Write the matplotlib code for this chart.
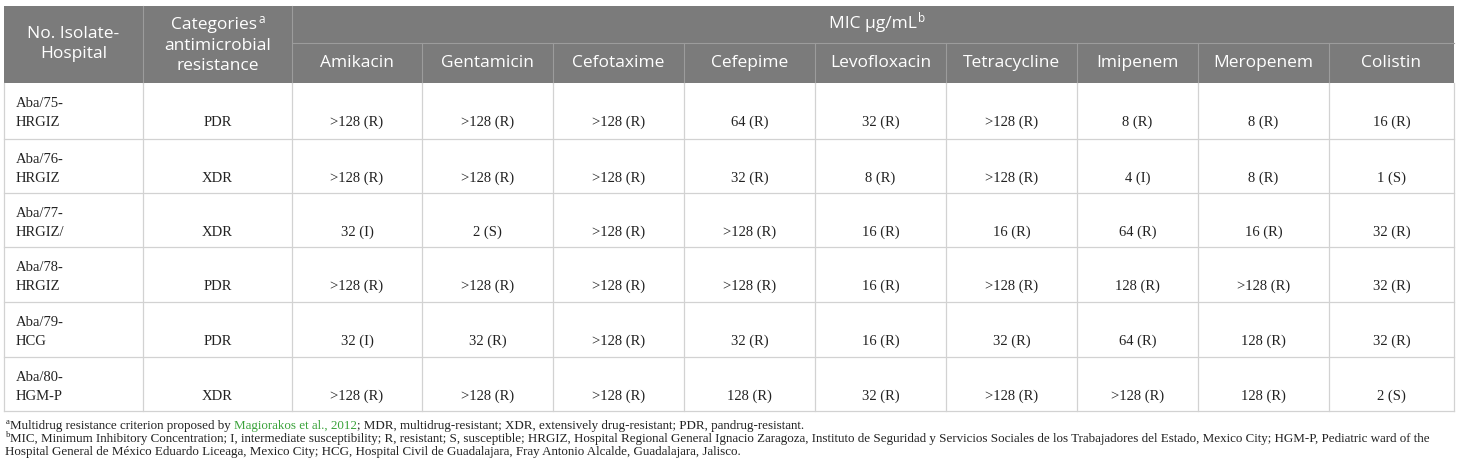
import matplotlib
matplotlib.use('Agg')
import matplotlib.pyplot as plt

# Dades de la taula
isolate_ids = ['Aba/75-', 'Aba/76-', 'Aba/77-', 'Aba/78-', 'Aba/79-', 'Aba/80-']
hospitals = ['HRGIZ', 'HRGIZ', 'HRGIZ/', 'HRGIZ', 'HCG', 'HGM-P']
categories = ['PDR', 'XDR', 'XDR', 'PDR', 'PDR', 'XDR']
drugs = ['Amikacin', 'Gentamicin', 'Cefotaxime', 'Cefepime', 'Levofloxacin',
         'Tetracycline', 'Imipenem', 'Meropenem', 'Colistin']
amikacin = ['>128 (R)', '>128 (R)', '32 (I)', '>128 (R)', '32 (I)', '>128 (R)']
gentamicin = ['>128 (R)', '>128 (R)', '2 (S)', '>128 (R)', '32 (R)', '>128 (R)']
cefotaxime = ['>128 (R)', '>128 (R)', '>128 (R)', '>128 (R)', '>128 (R)', '>128 (R)']
cefepime = ['64 (R)', '32 (R)', '>128 (R)', '>128 (R)', '32 (R)', '128 (R)']
levofloxacin = ['32 (R)', '8 (R)', '16 (R)', '16 (R)', '16 (R)', '32 (R)']
tetracycline = ['>128 (R)', '>128 (R)', '16 (R)', '>128 (R)', '32 (R)', '>128 (R)']
imipenem = ['8 (R)', '4 (I)', '64 (R)', '128 (R)', '64 (R)', '>128 (R)']
meropenem = ['8 (R)', '8 (R)', '16 (R)', '>128 (R)', '128 (R)', '128 (R)']
colistin = ['16 (R)', '1 (S)', '32 (R)', '32 (R)', '32 (R)', '2 (S)']
mic_columns = [amikacin, gentamicin, cefotaxime, cefepime, levofloxacin,
               tetracycline, imipenem, meropenem, colistin]

note_a = ['Multidrug resistance criterion proposed by ', 'Magiorakos et al., 2012',
          '; MDR, multidrug-resistant; XDR, extensively drug-resistant; PDR, pandrug-resistant.']
note_b1 = ('MIC, Minimum Inhibitory Concentration; I, intermediate susceptibility; R, resistant; '
           'S, susceptible; HRGIZ, Hospital Regional General Ignacio Zaragoza, Instituto de Seguridad '
           'y Servicios Sociales de los Trabajadores del Estado, Mexico City; HGM-P, Pediatric ward of the')
note_b2 = ('Hospital General de México Eduardo Liceaga, Mexico City; HCG, Hospital Civil de '
           'Guadalajara, Fray Antonio Alcalde, Guadalajara, Jalisco.')

# Geometria (en píxels)
W, H = 1460, 473
col_x = [4, 143, 292, 422, 553, 684, 815, 946, 1077, 1198, 1329, 1454]
row_y = [83, 139, 193, 247, 302, 357, 411]
head_top, head_mid = 6, 43

head_bg = '#7b7b7b'
head_line = '#9c9c9c'
grid = '#d2d2d2'
txt = '#222222'
sans = 'Open Sans'
serif = 'Liberation Serif'

fig = plt.figure(figsize=(W / 100, H / 100), dpi=100)
ax = fig.add_axes([0, 0, 1, 1])
ax.set_xlim(0, W)
ax.set_ylim(H, 0)
ax.axis('off')

# Capçalera
ax.add_patch(plt.Rectangle((col_x[0], head_top), col_x[-1] - col_x[0], row_y[0] - head_top,
                           facecolor=head_bg, edgecolor='none'))
for x in col_x[1:3]:
    ax.plot([x, x], [head_top, row_y[0]], color=head_line, lw=0.8)
for x in col_x[3:-1]:
    ax.plot([x, x], [head_mid, row_y[0]], color=head_line, lw=0.8)
ax.plot([col_x[2], col_x[-1]], [head_mid, head_mid], color=head_line, lw=0.8)

hs = 12.5
c0 = (col_x[0] + col_x[1]) / 2
ax.text(c0, 34, 'No. Isolate-', ha='center', va='center', color='white', fontsize=hs, family=sans)
ax.text(c0, 54, 'Hospital', ha='center', va='center', color='white', fontsize=hs, family=sans)

cx = (col_x[1] + col_x[2]) / 2
t = ax.text(cx - 3, 25, 'Categories', ha='center', va='center', color='white', fontsize=hs, family=sans)
ax.annotate('a', xy=(1, 1), xycoords=t, xytext=(0.5, 3), textcoords='offset points',
            ha='left', va='top', color='white', fontsize=8.5, family=sans)
ax.text(cx, 46, 'antimicrobial', ha='center', va='center', color='white', fontsize=hs, family=sans)
ax.text(cx, 66, 'resistance', ha='center', va='center', color='white', fontsize=hs, family=sans)

t = ax.text((col_x[2] + col_x[-1]) / 2, 24, 'MIC \u03bcg/mL', ha='center', va='center',
            color='white', fontsize=hs, family=sans)
ax.annotate('b', xy=(1, 1), xycoords=t, xytext=(0.5, 3), textcoords='offset points',
            ha='left', va='top', color='white', fontsize=8.5, family=sans)
for i, d in enumerate(drugs):
    ax.text((col_x[i + 2] + col_x[i + 3]) / 2, 63, d, ha='center', va='center',
            color='white', fontsize=hs, family=sans)

# Graella del cos
for y in row_y[1:]:
    ax.plot([col_x[0], col_x[-1]], [y, y], color=grid, lw=0.9)
for x in col_x:
    ax.plot([x, x], [row_y[0], row_y[-1]], color=grid, lw=0.9)

ds = 10.5
for r in range(len(isolate_ids)):
    top = row_y[r]
    ax.text(col_x[0] + 12, top + 20, isolate_ids[r], ha='left', va='center',
            color=txt, fontsize=ds, family=serif)
    ax.text(col_x[0] + 12, top + 39, hospitals[r], ha='left', va='center',
            color=txt, fontsize=ds, family=serif)
    ax.text((col_x[1] + col_x[2]) / 2, top + 39, categories[r], ha='center', va='center',
            color=txt, fontsize=ds, family=serif)
    for c, vals in enumerate(mic_columns):
        ax.text((col_x[c + 2] + col_x[c + 3]) / 2, top + 39, vals[r], ha='center', va='center',
                color=txt, fontsize=ds, family=serif)

# Notes al peu
fs = 9.35
green = '#3aa23a'
x0 = col_x[0] + 6
prev = ax.text(x0, 426, note_a[0], ha='left', va='center', color=txt, fontsize=fs, family=serif)
ax.annotate('a', xy=(0, 1), xycoords=prev, xytext=(0, 1.5), textcoords='offset points',
            ha='right', va='top', color=txt, fontsize=6.2, family=serif)
prev = ax.annotate(note_a[1], xy=(1, 0), xycoords=prev, ha='left', va='bottom',
                   color=green, fontsize=fs, family=serif)
ax.annotate(note_a[2], xy=(1, 0), xycoords=prev, ha='left', va='bottom',
            color=txt, fontsize=fs, family=serif)
b = ax.text(x0, 439, note_b1, ha='left', va='center', color=txt, fontsize=fs, family=serif)
ax.annotate('b', xy=(0, 1), xycoords=b, xytext=(0, 1.5), textcoords='offset points',
            ha='right', va='top', color=txt, fontsize=6.2, family=serif)
ax.text(col_x[0] + 1, 452, note_b2, ha='left', va='center', color=txt, fontsize=fs, family=serif)

plt.savefig('out.png', dpi=100)
